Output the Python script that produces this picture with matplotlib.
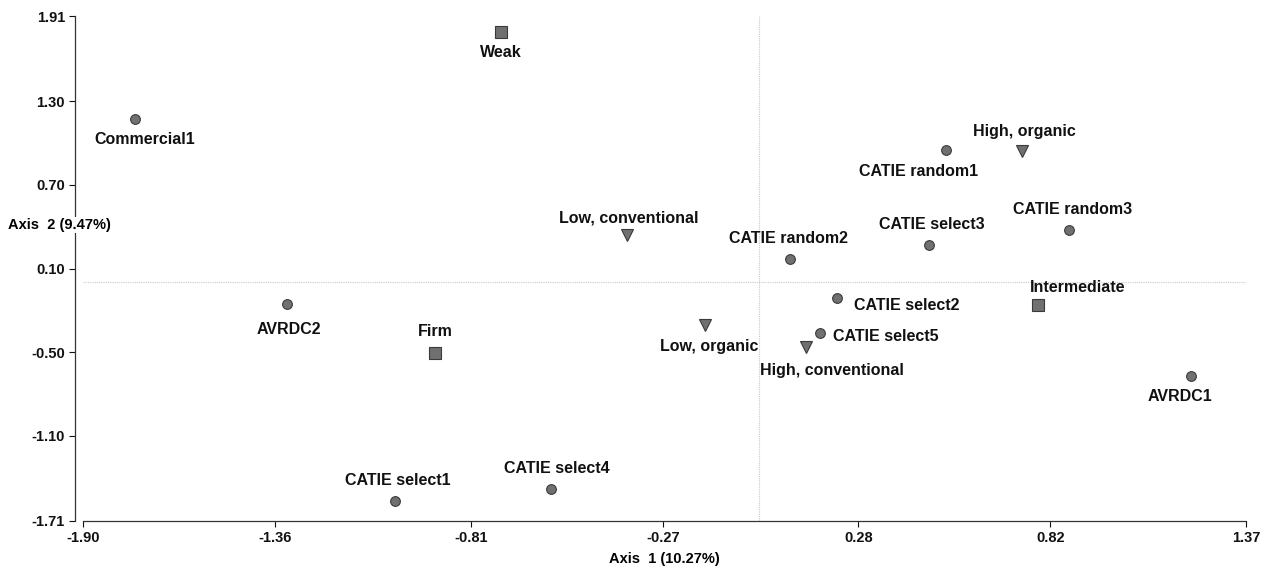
import matplotlib
matplotlib.use("Agg")
import matplotlib.pyplot as plt

plt.rcParams['font.family'] = ['Liberation Sans', 'DejaVu Sans']
plt.rcParams['font.weight'] = 'bold'

# biplot coordinates: genotypes (circles), firmness classes (squares), management (triangles)
genotypes = ["Commercial1", "CATIE random1", "CATIE select3", "CATIE random3", "CATIE random2",
             "CATIE select2", "CATIE select5", "AVRDC2", "AVRDC1", "CATIE select1", "CATIE select4"]
geno_x = [-1.754, 0.526, 0.478, 0.872, 0.088, 0.220, 0.172, -1.326, 1.215, -1.023, -0.584]
geno_y = [1.173, 0.951, 0.272, 0.379, 0.165, -0.114, -0.365, -0.157, -0.672, -1.566, -1.481]

firmness = ["Weak", "Intermediate", "Firm"]
firm_x = [-0.725, 0.785, -0.910]
firm_y = [1.796, -0.164, -0.508]

management = ["High, organic", "Low, conventional", "Low, organic", "High, conventional"]
mgmt_x = [0.740, -0.371, -0.151, 0.133]
mgmt_y = [0.944, 0.343, -0.307, -0.465]

x_ticks = [-1.90, -1.36, -0.81, -0.27, 0.28, 0.82, 1.37]
y_ticks = [1.91, 1.30, 0.70, 0.10, -0.50, -1.10, -1.71]

# label offsets in pixels (dx, dy) and horizontal alignment
label_pos = {
    "Commercial1": (10, -21, 'center'),
    "CATIE random1": (-27, -22, 'center'),
    "CATIE select3": (3, 20, 'center'),
    "CATIE random3": (4, 20, 'center'),
    "CATIE random2": (-2, 21, 'center'),
    "CATIE select2": (17, -7, 'left'),
    "CATIE select5": (13, -3, 'left'),
    "AVRDC2": (2, -25, 'center'),
    "AVRDC1": (-11, -20, 'center'),
    "CATIE select1": (3, 20, 'center'),
    "CATIE select4": (6, 21, 'center'),
    "Weak": (0, -21, 'center'),
    "Intermediate": (40, 18, 'center'),
    "Firm": (0, 22, 'center'),
    "High, organic": (2, 19, 'center'),
    "Low, conventional": (2, 17, 'center'),
    "Low, organic": (4, -21, 'center'),
    "High, conventional": (26, -23, 'center'),
}

fig = plt.figure(figsize=(12.75, 5.71), dpi=100)
ax = fig.add_axes([83 / 1275, 1 - 521 / 571, (1246 - 83) / 1275, (521 - 16) / 571])

ax.axhline(0, color='#c8c8c8', lw=0.8, ls=(0, (1, 1)), zorder=1)
ax.axvline(0, color='#c8c8c8', lw=0.8, ls=(0, (1, 1)), zorder=1)

fill, edge = '#707070', '#3a3a3a'
ax.plot(geno_x, geno_y, 'o', ms=7, mfc=fill, mec=edge, mew=0.8, zorder=3)
ax.plot(firm_x, firm_y, 's', ms=8, mfc=fill, mec=edge, mew=0.8, zorder=3)
ax.plot(mgmt_x, mgmt_y, 'v', ms=9, mfc=fill, mec=edge, mew=0.8, zorder=3)

names = genotypes + firmness + management
xs = geno_x + firm_x + mgmt_x
ys = geno_y + firm_y + mgmt_y
for name, x, y in zip(names, xs, ys):
    dx, dy, ha = label_pos[name]
    ax.annotate(name, (x, y), xytext=(dx, dy), textcoords='offset pixels',
                ha=ha, va='center', fontsize=11.5, fontweight='bold', color='#111111')

ax.set_xlim(x_ticks[0], x_ticks[-1])
ax.set_ylim(y_ticks[-1], y_ticks[0])
ax.set_xticks(x_ticks)
ax.set_xticklabels([f"{v:.2f}" for v in x_ticks])
ax.set_yticks(y_ticks)
ax.set_yticklabels([f"{v:.2f}" for v in y_ticks])
ax.tick_params(direction='out', length=4, width=0.8, labelsize=10.5, pad=3, colors='#111111')

for s in ['top', 'right']:
    ax.spines[s].set_visible(False)
ax.spines['left'].set_position(('outward', 6))
for s in ['left', 'bottom']:
    ax.spines[s].set_color('#333333')
    ax.spines[s].set_linewidth(0.9)

fig.text(664 / 1275, 1 - 559 / 571, "Axis  1 (10.27%)", ha='center', va='center',
         fontsize=10.5, fontweight='bold')
fig.text(59 / 1275, 1 - 225 / 571, "Axis  2 (9.47%)", ha='center', va='center',
         fontsize=10.5, fontweight='bold',
         bbox=dict(facecolor='white', edgecolor='none', pad=1))

fig.savefig("out.png", dpi=100)
